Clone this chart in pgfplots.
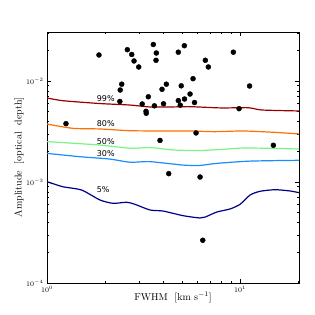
\documentclass[border=0pt]{standalone}
\usepackage{fontspec}
\usepackage{pgfplots}
\pgfplotsset{compat=1.18}
\newfontfamily\dejavu{DejaVu Sans}
\definecolor{c99}{RGB}{150,0,0}
\definecolor{c80}{RGB}{255,110,0}
\definecolor{c50}{RGB}{120,245,130}
\definecolor{c30}{RGB}{25,140,255}
\definecolor{c05}{RGB}{0,0,135}
\begin{document}
\begin{tikzpicture}[x=1pt,y=1pt]
\path[use as bounding box] (-47,-32) rectangle (268,283);
\begin{axis}[
  at={(0,0)}, anchor=south west,
  scale only axis, width=252pt, height=251pt,
  xmode=log, ymode=log,
  xmin=1, xmax=20.2, ymin=1e-4, ymax=0.03055,
  xtick={1,10}, ytick={1e-4,1e-3,1e-2},
  minor xtick={2,3,4,5,6,7,8,9,20},
  minor ytick={2e-4,3e-4,4e-4,5e-4,6e-4,7e-4,8e-4,9e-4,2e-3,3e-3,4e-3,5e-3,6e-3,7e-3,8e-3,9e-3,2e-2,3e-2},
  tick align=inside,
  major tick length=4pt, minor tick length=2pt,
  tick label style={font=\fontsize{7}{8}\selectfont},
  axis line style={black, line width=0.6pt},
  every tick/.style={black, line width=0.5pt},
  clip marker paths=true,
  xlabel={FWHM\ \ [km s$^{-1}$]},
  ylabel={Amplitude\ \ [optical\ \ depth]},
  label style={font=\fontsize{9.5}{11}\selectfont},
  every axis x label/.style={at={(axis description cs:0.5,-0.058)}, anchor=center},
  every axis y label/.style={at={(axis description cs:-0.111,0.5)}, rotate=90, anchor=center},
]
% 99%
\addplot[c99, line width=1.2pt, smooth, tension=0.4] coordinates {
(1.0,6.79e-3) (1.21,6.38e-3) (1.88,5.98e-3) (2.69,5.78e-3) (3.42,5.53e-3) (4.35,5.53e-3) (5.5,5.57e-3) (8.0,5.41e-3) (11.0,5.44e-3) (13.0,5.16e-3) (20.2,5.05e-3)};
% 80%
\addplot[c80, line width=1.2pt, smooth, tension=0.4] coordinates {
(1.0,3.75e-3) (1.36,3.40e-3) (1.88,3.35e-3) (2.69,3.22e-3) (3.85,3.20e-3) (5.5,3.20e-3) (7.4,3.15e-3) (10.4,3.20e-3) (15.2,3.10e-3) (20.2,2.99e-3)};
% 50%
\addplot[c50, line width=1.2pt, smooth, tension=0.4] coordinates {
(1.0,2.51e-3) (1.36,2.42e-3) (1.88,2.32e-3) (2.69,2.16e-3) (3.42,2.19e-3) (4.6,2.07e-3) (6.2,2.05e-3) (8.0,2.10e-3) (10.4,2.17e-3) (15.2,2.15e-3) (20.2,2.12e-3)};
% 30%
\addplot[c30, line width=1.2pt, smooth, tension=0.4] coordinates {
(1.0,1.92e-3) (1.48,1.78e-3) (2.1,1.69e-3) (2.69,1.57e-3) (3.42,1.59e-3) (5.07,1.47e-3) (6.21,1.46e-3) (7.6,1.53e-3) (11.27,1.61e-3) (20.2,1.64e-3)};
% 5%
\addplot[c05, line width=1.2pt, smooth, tension=0.4] coordinates {
(1.0,1.007e-3) (1.21,8.97e-4) (1.51,8.33e-4) (1.88,6.64e-4) (2.2,6.15e-4) (2.58,6.30e-4) (2.83,6.05e-4) (3.42,5.28e-4) (3.99,5.16e-4) (5.07,4.64e-4) (6.21,4.40e-4) (6.6,4.50e-4) (7.6,5.05e-4) (8.88,5.41e-4) (10.0,6.01e-4) (11.27,7.43e-4) (12.69,8.09e-4) (15.18,8.39e-4) (18.16,8.15e-4) (20.2,7.84e-4)};
% data points
\addplot[only marks, mark=*, mark size=2.5pt, mark options={fill=black, draw=black}] coordinates {
(1.859,0.01809) (2.607,0.02041) (2.748,0.01830) (2.823,0.01578) (2.987,0.01376)
(3.554,0.02298) (3.684,0.01893) (3.671,0.01603) (4.789,0.01928) (5.145,0.02236)
(7.878,0.03076) (9.232,0.01928) (6.611,0.01603) (6.852,0.01376) (5.708,0.01054)
(4.958,8.96e-3) (11.20,8.92e-3) (5.507,7.43e-3) (2.438,9.30e-3) (2.395,8.14e-3)
(2.384,6.27e-3) (3.113,5.92e-3) (3.349,6.98e-3) (3.258,5.01e-3) (3.266,4.79e-3)
(3.601,5.68e-3) (3.943,8.28e-3) (4.151,9.30e-3) (4.014,5.95e-3) (4.789,6.40e-3)
(4.900,5.76e-3) (5.157,6.63e-3) (5.810,6.12e-3) (5.916,3.06e-3) (3.850,2.58e-3)
(1.254,3.78e-3) (9.882,5.32e-3) (14.88,2.31e-3) (4.271,1.21e-3) (6.206,1.12e-3)
(6.409,2.65e-4)};
\node[font=\dejavu\fontsize{8}{9}\selectfont, anchor=west, inner sep=0pt] at (axis cs:1.809,6.74e-3) {99\%};
\node[font=\dejavu\fontsize{8}{9}\selectfont, anchor=west, inner sep=0pt] at (axis cs:1.809,3.78e-3) {80\%};
\node[font=\dejavu\fontsize{8}{9}\selectfont, anchor=west, inner sep=0pt] at (axis cs:1.809,2.51e-3) {50\%};
\node[font=\dejavu\fontsize{8}{9}\selectfont, anchor=west, inner sep=0pt] at (axis cs:1.809,1.92e-3) {30\%};
\node[font=\dejavu\fontsize{8}{9}\selectfont, anchor=west, inner sep=0pt] at (axis cs:1.809,8.47e-4) {5\%};
\end{axis}
\end{tikzpicture}
\end{document}
